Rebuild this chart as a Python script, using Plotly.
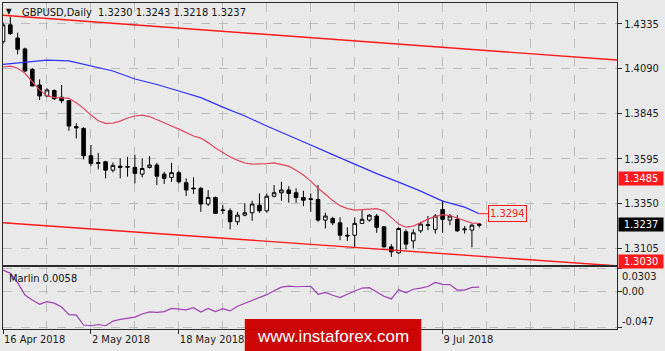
import plotly.graph_objects as go
from plotly.subplots import make_subplots
import pandas as pd

# ---------------- data ----------------
dates = pd.bdate_range("2018-04-16", periods=66)
bar_idx = list(range(66))

opens = [1.4238, 1.4330, 1.4258, 1.4198, 1.4086, 1.4000, 1.3940, 1.3970, 1.3933, 1.3914,
         1.3772, 1.3762, 1.3612, 1.3575, 1.3579, 1.3533, 1.3555, 1.3549, 1.3548, 1.3511,
         1.3548, 1.3561, 1.3511, 1.3493, 1.3519, 1.3464, 1.3435, 1.3433, 1.3347, 1.3383,
         1.3315, 1.3310, 1.3250, 1.3286, 1.3299, 1.3341, 1.3310, 1.3390, 1.3409, 1.3424,
         1.3409, 1.3383, 1.3376, 1.3372, 1.3259, 1.3268, 1.3244, 1.3176, 1.3176, 1.3241,
         1.3259, 1.3281, 1.3222, 1.3112, 1.3079, 1.3195, 1.3145, 1.3200, 1.3229, 1.3208,
         1.3317, 1.3259, 1.3263, 1.3206, 1.3204, 1.3230]
highs = [1.4345, 1.4376, 1.4287, 1.4205, 1.4093, 1.4031, 1.3982, 1.3976, 1.4000, 1.3918,
         1.3790, 1.3768, 1.3671, 1.3628, 1.3584, 1.3575, 1.3598, 1.3606, 1.3616, 1.3598,
         1.3610, 1.3573, 1.3524, 1.3573, 1.3529, 1.3488, 1.3493, 1.3440, 1.3424, 1.3388,
         1.3341, 1.3323, 1.3304, 1.3350, 1.3365, 1.3405, 1.3405, 1.3451, 1.3469, 1.3445,
         1.3433, 1.3420, 1.3405, 1.3451, 1.3299, 1.3277, 1.3274, 1.3219, 1.3274, 1.3317,
         1.3292, 1.3292, 1.3226, 1.3127, 1.3219, 1.3208, 1.3208, 1.3250, 1.3281, 1.3292,
         1.3368, 1.3292, 1.3286, 1.3226, 1.3237, 1.3243]
lows = [1.4225, 1.4275, 1.4168, 1.4070, 1.3993, 1.3918, 1.3933, 1.3918, 1.3900, 1.3749,
        1.3707, 1.3592, 1.3555, 1.3537, 1.3488, 1.3521, 1.3488, 1.3497, 1.3460, 1.3493,
        1.3542, 1.3451, 1.3457, 1.3469, 1.3460, 1.3391, 1.3402, 1.3304, 1.3336, 1.3292,
        1.3292, 1.3208, 1.3231, 1.3280, 1.3255, 1.3299, 1.3299, 1.3383, 1.3365, 1.3354,
        1.3354, 1.3336, 1.3304, 1.3250, 1.3213, 1.3231, 1.3149, 1.3145, 1.3105, 1.3238,
        1.3250, 1.3189, 1.3109, 1.3057, 1.3072, 1.3098, 1.3103, 1.3189, 1.3204, 1.3185,
        1.3189, 1.3231, 1.3195, 1.3185, 1.3109, 1.3218]
closes = [1.4330, 1.4282, 1.4196, 1.4077, 1.3995, 1.3940, 1.3973, 1.3925, 1.3914, 1.3775,
          1.3765, 1.3612, 1.3570, 1.3570, 1.3533, 1.3559, 1.3548, 1.3552, 1.3515, 1.3542,
          1.3561, 1.3500, 1.3488, 1.3519, 1.3469, 1.3424, 1.3431, 1.3347, 1.3383, 1.3296,
          1.3312, 1.3250, 1.3286, 1.3299, 1.3347, 1.3310, 1.3390, 1.3409, 1.3424, 1.3405,
          1.3383, 1.3368, 1.3372, 1.3259, 1.3281, 1.3244, 1.3176, 1.3172, 1.3241, 1.3263,
          1.3286, 1.3219, 1.3112, 1.3085, 1.3213, 1.3127, 1.3189, 1.3237, 1.3233, 1.3281,
          1.3263, 1.3281, 1.3200, 1.3210, 1.3231, 1.3237]

ma_fast = [1.4099, 1.4104, 1.4092, 1.4064, 1.4018, 1.3973, 1.3940, 1.3932, 1.3930, 1.3927,
           1.3903, 1.3872, 1.3835, 1.3804, 1.3790, 1.3791, 1.3802, 1.3819, 1.3830, 1.3835,
           1.3827, 1.3811, 1.3791, 1.3775, 1.3758, 1.3739, 1.3720, 1.3709, 1.3684, 1.3654,
           1.3629, 1.3605, 1.3588, 1.3572, 1.3566, 1.3566, 1.3569, 1.3573, 1.3566, 1.3555,
           1.3533, 1.3506, 1.3473, 1.3434, 1.3401, 1.3366, 1.3338, 1.3322, 1.3314, 1.3316,
           1.3319, 1.3322, 1.3308, 1.3275, 1.3237, 1.3220, 1.3226, 1.3245, 1.3264, 1.3278,
           1.3289, 1.3284, 1.3270, 1.3259, 1.3242, 1.3241]

ma_slow_bars = [0, 3, 6, 9, 12, 15, 18, 21, 24, 27, 30, 33, 36, 39, 42, 45, 48, 51, 54,
                57, 60, 63, 65]
ma_slow = [1.4113, 1.4126, 1.4137, 1.4132, 1.4104, 1.4077, 1.4033, 1.4003, 1.3967, 1.3931,
           1.3879, 1.3830, 1.3775, 1.3725, 1.3671, 1.3618, 1.3566, 1.3514, 1.3467, 1.3418,
           1.3363, 1.3330, 1.3294]

marlin = [0.0277, 0.0235, 0.0115, -0.0045, -0.0110, -0.0165, -0.0131, -0.0150, -0.0200, -0.0298,
          -0.0303, -0.0432, -0.0441, -0.0425, -0.0441, -0.0382, -0.0360, -0.0345, -0.0330, -0.0290,
          -0.0262, -0.0268, -0.0258, -0.0217, -0.0230, -0.0236, -0.0208, -0.0265, -0.0217, -0.0258,
          -0.0220, -0.0250, -0.0190, -0.0155, -0.0120, -0.0085, -0.0040, 0.0010, 0.0057, 0.0070,
          0.0062, 0.0065, 0.0068, -0.0035, -0.0012, -0.0048, -0.0078, -0.0035, 0.0010, 0.0045,
          0.0050, 0.0000, -0.0060, -0.0095, 0.0025, -0.0015, 0.0030, 0.0045, 0.0065, 0.0118,
          0.0093, 0.0090, 0.0019, 0.0019, 0.0054, 0.0058]

upper_channel_x = [0, 83.8]
upper_channel_y = [1.4383, 1.4137]
lower_channel_x = [0, 83.8]
lower_channel_y = [1.3244, 1.3008]
red_levels = [1.3485, 1.3055, 1.3030]
labelled_red_levels = [1.3485, 1.3030]
last_price = 1.3237
ma_label_value = 1.3294
main_ticks = [1.4335, 1.4090, 1.3845, 1.3595, 1.3350, 1.3105]
sub_ticks = [0.0303, 0.00, -0.047]
sub_tick_text = ["0.0303", "0.00", "-0.047"]
date_tick_bars = [0, 12, 24, 36, 48, 60]
date_tick_text = [f"{dates[i].day} {dates[i]:%b %Y}" for i in date_tick_bars]
grid_bars = list(range(0, 85, 6))
title_text = "GBPUSD,Daily  1.3230 1.3243 1.3218 1.3237"
marlin_text = "Marlin 0.0058"

# ---------------- style ----------------
BG = "#e9e9e9"
GRID = "#bdbdbd"
AX = "#2b2b2b"
FONT = "DejaVu Sans Condensed, Liberation Sans, Arial, sans-serif"
X_RANGE = [0, 83.8]

fig = make_subplots(rows=2, cols=1, shared_xaxes=True, vertical_spacing=0.0)

fig.add_trace(go.Candlestick(
    x=bar_idx, open=opens, high=highs, low=lows, close=closes,
    increasing=dict(line=dict(color="black", width=1), fillcolor="white"),
    decreasing=dict(line=dict(color="black", width=1), fillcolor="black"),
    whiskerwidth=0, hoverinfo="skip"), row=1, col=1)

fig.add_trace(go.Scatter(x=upper_channel_x, y=upper_channel_y, mode="lines",
                         line=dict(color="#ff1a1a", width=1.4)), row=1, col=1)
fig.add_trace(go.Scatter(x=lower_channel_x, y=lower_channel_y, mode="lines",
                         line=dict(color="#ff1a1a", width=1.4)), row=1, col=1)
fig.add_trace(go.Scatter(x=bar_idx, y=ma_fast, mode="lines",
                         line=dict(color="#e2455e", width=1.2)), row=1, col=1)
fig.add_trace(go.Scatter(x=ma_slow_bars, y=ma_slow, mode="lines",
                         line=dict(color="#3030ff", width=1.2)), row=1, col=1)
fig.add_trace(go.Scatter(x=[ma_slow_bars[-1], ma_slow_bars[-1] + 1.2],
                         y=[ma_label_value, ma_label_value], mode="lines",
                         line=dict(color="#ff1a1a", width=1)), row=1, col=1)
fig.add_trace(go.Scatter(x=bar_idx, y=marlin, mode="lines",
                         line=dict(color="#a040b4", width=1.2)), row=2, col=1)

# horizontal levels
fig.add_hline(y=last_price, line=dict(color="#a9a9a9", width=1), layer="below", row=1, col=1)
for lv in red_levels:
    fig.add_hline(y=lv, line=dict(color="#ff1a1a", width=1), row=1, col=1)

ann = []
for lv in labelled_red_levels:
    ann.append(dict(xref="paper", x=1, xanchor="left", xshift=1, yref="y", y=lv,
                    text=f"{lv:.4f}", showarrow=False, bgcolor="#ff1a1a", borderpad=0,
                    width=44, height=13, font=dict(family=FONT, size=11, color="white")))
ann.append(dict(xref="paper", x=1, xanchor="left", xshift=1, yref="y", y=last_price,
                text=f"{last_price:.4f}", showarrow=False, bgcolor="black", borderpad=0,
                width=44, height=13, font=dict(family=FONT, size=11, color="white")))
ann.append(dict(xref="x", x=ma_slow_bars[-1] + 1.2, xanchor="left", yref="y", y=ma_label_value,
                text=f"{ma_label_value:.4f}", showarrow=False, bgcolor=BG, bordercolor="#ff1a1a",
                borderwidth=1, borderpad=1,
                font=dict(family=FONT, size=11, color="#ff1a1a")))
# sub-panel labels (MetaTrader draws them inside the edges)
for v, t, ys in zip(sub_ticks, sub_tick_text, [-8, 0, 6]):
    ann.append(dict(xref="paper", x=1, xanchor="left", xshift=3, yref="y2", y=v, yshift=ys,
                    text=t, showarrow=False, font=dict(family=FONT, size=11, color="#1a1a1a")))
ann.append(dict(xref="paper", x=0.0277, xanchor="left", yref="paper", y=0.972, yanchor="middle",
                text=title_text, showarrow=False, font=dict(family=FONT, size=11, color="#111")))
ann.append(dict(xref="paper", x=0.0105, xanchor="center", yref="paper", y=0.975, yanchor="middle",
                text="▼", showarrow=False, font=dict(family=FONT, size=8, color="#111")))
ann.append(dict(xref="paper", x=0.0065, xanchor="left", yref="paper", y=0.156, yanchor="middle",
                text=marlin_text, showarrow=False, font=dict(family=FONT, size=11, color="#111")))
ann.append(dict(xref="paper", x=0.5375, xanchor="center", yref="paper", y=-0.0215, yanchor="middle",
                text="www.instaforex.com", showarrow=False,
                font=dict(family="Liberation Sans, Arial, sans-serif", size=17, color="white")))

fig.update_layout(
    width=665, height=351, margin=dict(l=3, r=48, t=3, b=22),
    paper_bgcolor=BG, plot_bgcolor=BG, showlegend=False,
    font=dict(family=FONT, size=11, color="#1a1a1a"),
    annotations=ann,
    shapes=[dict(type="rect", xref="paper", yref="paper", x0=0.394, x1=0.681,
                 y0=-0.0675, y1=0.0307, fillcolor="rgba(204,0,0,0.6)",
                 line=dict(width=0), layer="above")],
)

fig.update_xaxes(range=X_RANGE, showline=True, mirror=True, linecolor=AX, linewidth=1,
                 zeroline=False, rangeslider=dict(visible=False))
fig.update_xaxes(tickvals=grid_bars, showticklabels=False, ticks="",
                 showgrid=True, gridcolor=GRID, griddash="dash", gridwidth=1, row=1, col=1)
fig.update_xaxes(tickvals=date_tick_bars, ticktext=date_tick_text, ticks="outside", ticklen=4,
                 tickcolor=AX, ticklabelposition="outside right",
                 tickfont=dict(family=FONT, size=11, color="#1a1a1a"),
                 showgrid=True, gridcolor=GRID, griddash="dash", gridwidth=1,
                 minor=dict(tickvals=[g for g in grid_bars if g not in date_tick_bars],
                            showgrid=True, gridcolor=GRID, griddash="dash", ticks=""),
                 row=2, col=1)

fig.update_yaxes(side="right", showline=True, mirror=True, linecolor=AX, linewidth=1,
                 zeroline=False, ticks="outside", ticklen=4, tickcolor=AX)
fig.update_yaxes(domain=[0.196, 1.0], range=[1.3012, 1.4450], tickvals=main_ticks,
                 ticktext=[f"{v:.4f}" for v in main_ticks],
                 showgrid=True, gridcolor=GRID, griddash="dash",
                 tickfont=dict(family=FONT, size=11, color="#1a1a1a"), row=1, col=1)
fig.update_yaxes(domain=[0.0, 0.19], range=[-0.0483, 0.0316], tickvals=sub_ticks,
                 showticklabels=False, showgrid=True, gridcolor=GRID, griddash="dash",
                 row=2, col=1)

fig.write_html("out.html")
